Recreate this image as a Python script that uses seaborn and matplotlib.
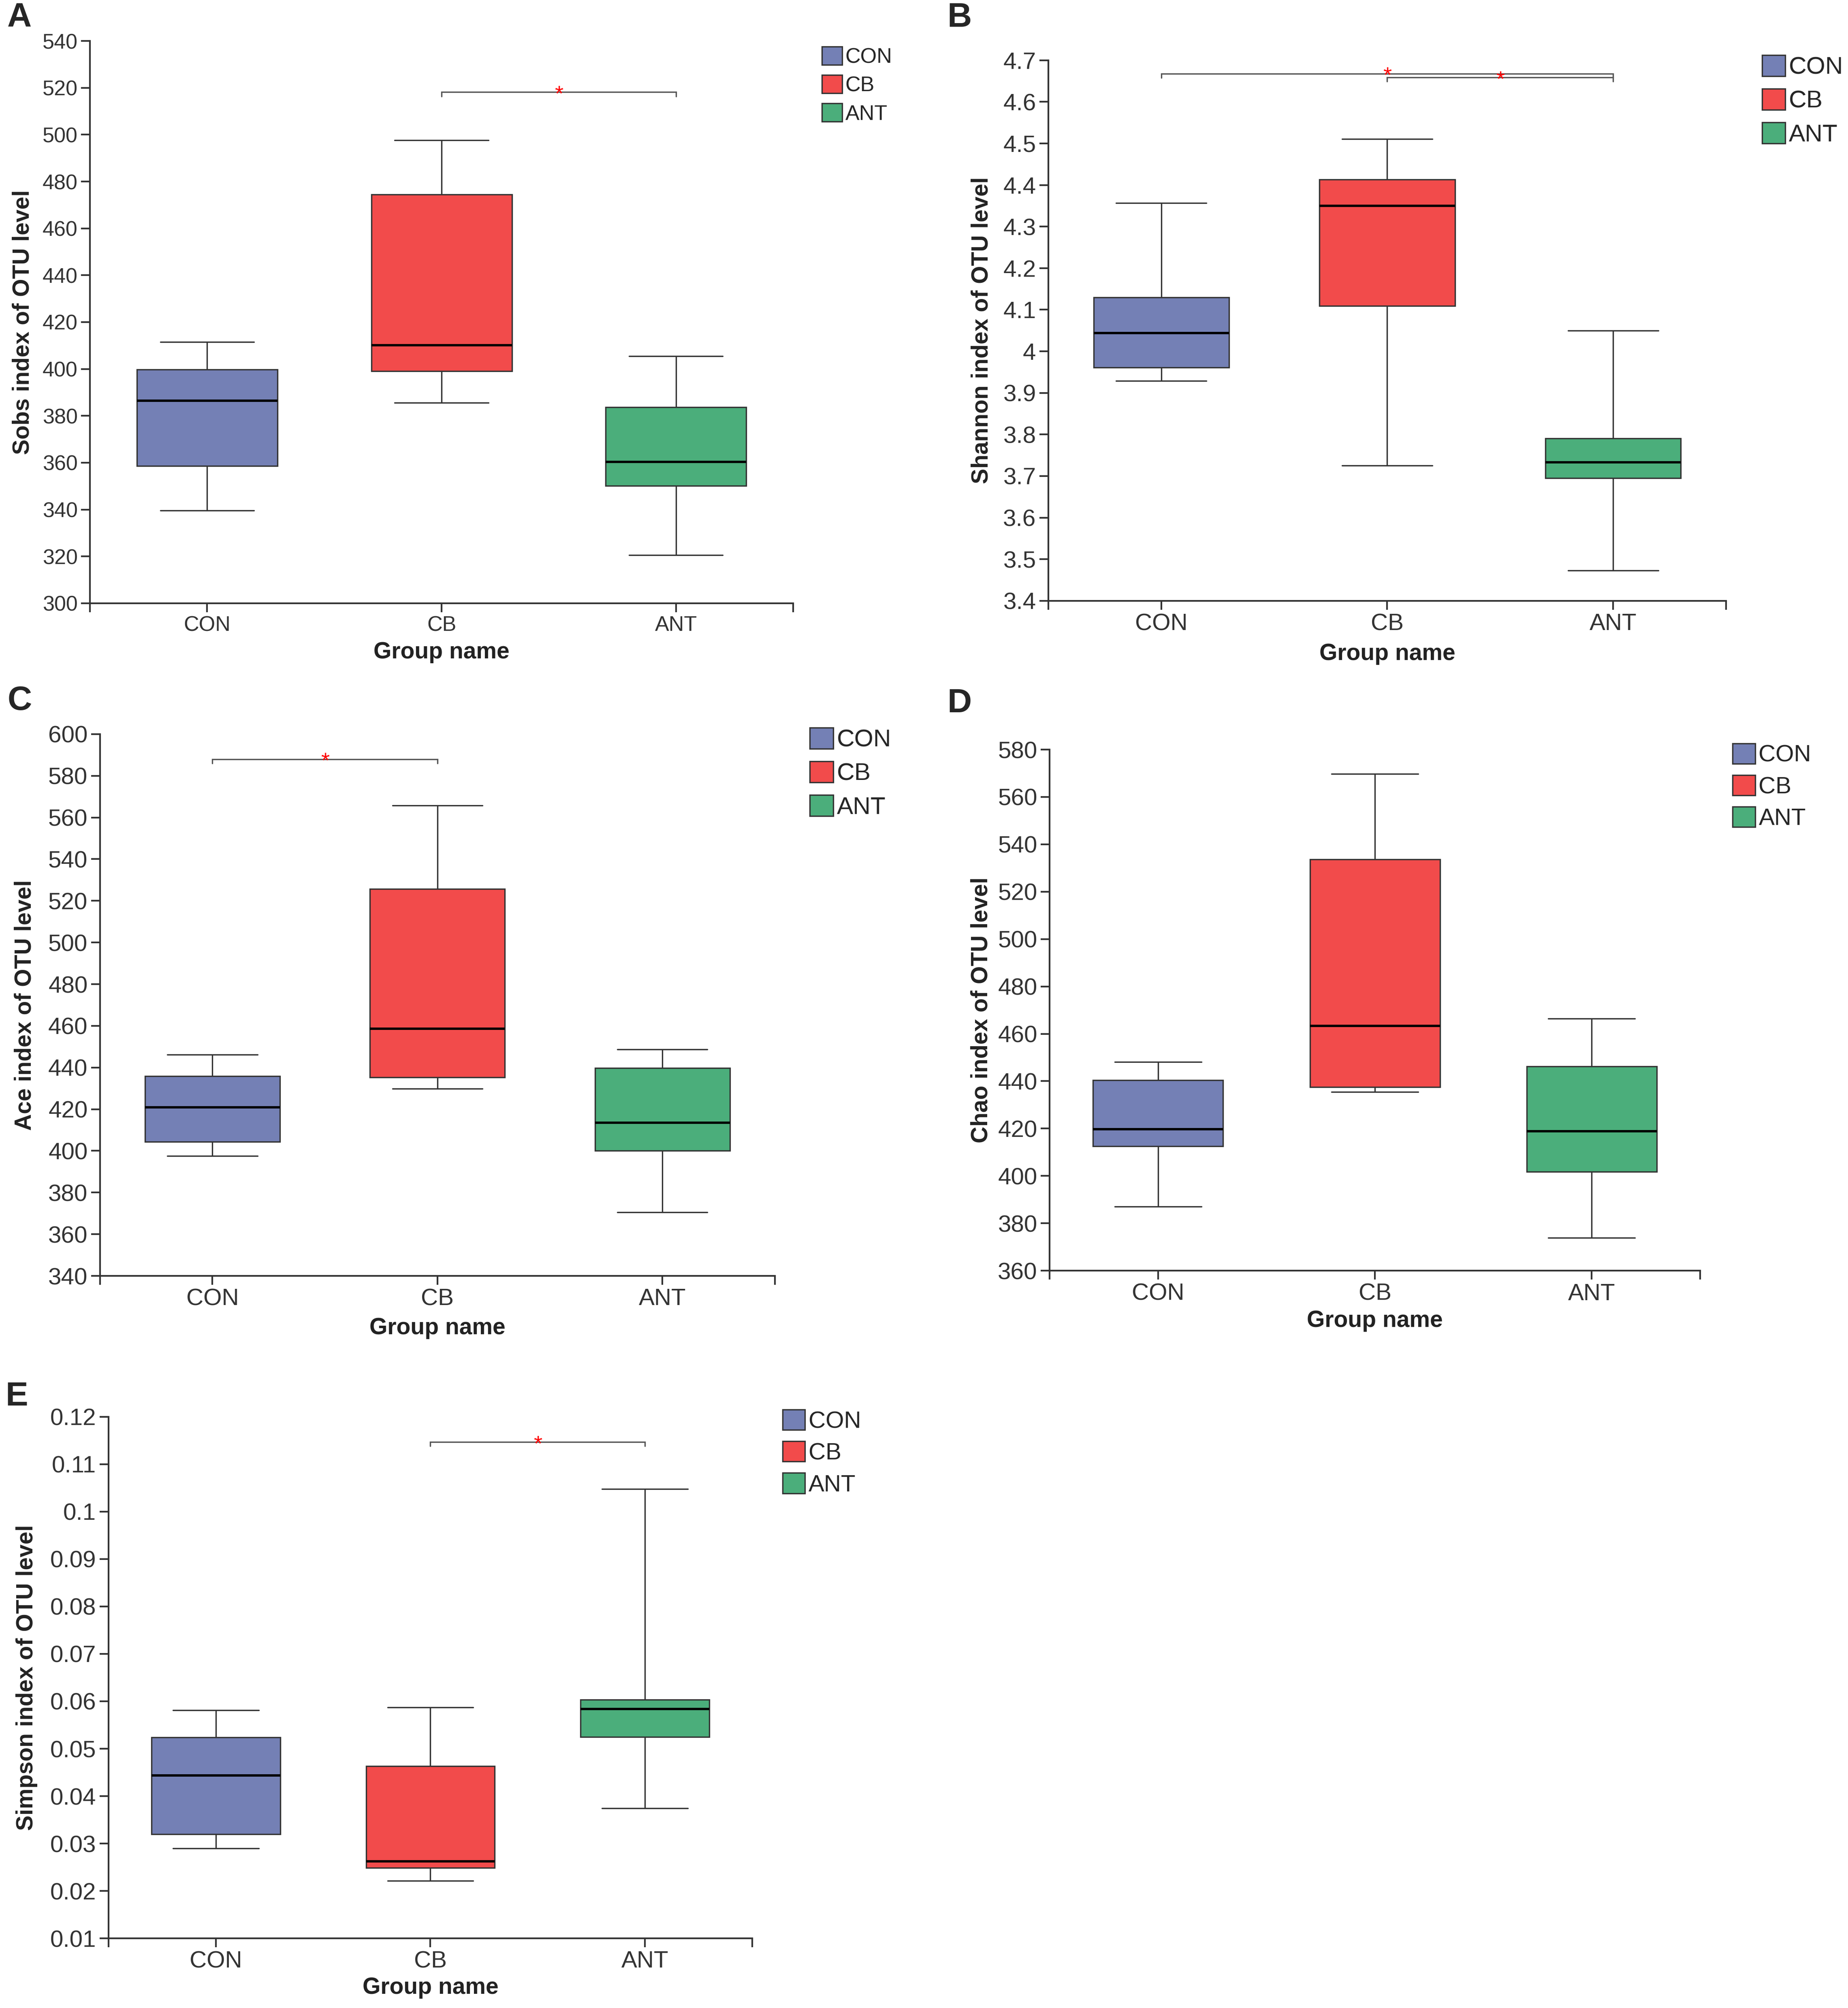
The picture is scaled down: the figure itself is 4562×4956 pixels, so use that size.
import numpy as np
import pandas as pd
import matplotlib
matplotlib.use("Agg")
import matplotlib.pyplot as plt
import matplotlib.ticker as mticker
from matplotlib.patches import Patch
import seaborn as sns

sns.set_style("ticks")
plt.rcParams["font.family"] = ["Liberation Sans", "DejaVu Sans"]
NARROW = ["Liberation Sans Narrow", "Liberation Sans", "DejaVu Sans"]

groups = ["CON", "CB", "ANT"]
colors = ["#7480b5", "#f24b4b", "#4bae7b"]
LINE = "#333333"

# five-number summaries: min, q1, median, q3, max
sobs_con = [339.6, 358.6, 386.5, 399.7, 411.6]
sobs_cb = [385.5, 399.1, 410.1, 474.4, 497.7]
sobs_ant = [320.5, 350.2, 360.4, 383.7, 405.5]

shannon_con = [3.929, 3.961, 4.044, 4.130, 4.357]
shannon_cb = [3.725, 4.109, 4.350, 4.413, 4.511]
shannon_ant = [3.473, 3.695, 3.733, 3.791, 4.050]

ace_con = [397.6, 404.4, 420.9, 435.9, 446.1]
ace_cb = [429.8, 435.3, 458.6, 525.7, 565.7]
ace_ant = [370.5, 400.0, 413.5, 439.7, 448.7]

chao_con = [387.0, 412.6, 419.7, 440.4, 448.2]
chao_cb = [435.5, 437.5, 463.4, 533.6, 569.7]
chao_ant = [373.8, 401.7, 418.8, 446.3, 466.5]

simpson_con = [0.0290, 0.0320, 0.0444, 0.0524, 0.0581]
simpson_cb = [0.0221, 0.0249, 0.0262, 0.0463, 0.0587]
simpson_ant = [0.0374, 0.0525, 0.0584, 0.0603, 0.1048]

# significance brackets: (from group, to group, height)
sobs_sig = [(1, 2, 518.2)]
shannon_sig = [(0, 2, 4.668), (1, 2, 4.659)]
ace_sig = [(0, 1, 588.0)]
chao_sig = []
simpson_sig = [(1, 2, 0.1147)]

panels = [
    dict(letter="A", data=[sobs_con, sobs_cb, sobs_ant], ylabel="Sobs index of OTU level",
         ylim=(300, 540), step=20, sig=sobs_sig,
         rect=[0.0487, 0.6996, 0.3805, 0.2800], letter_xy=(0.004, 0.999),
         ylab_x=-0.08, xlab_y=-0.068, legend_xy=(1.041, 0.99), leg_fs=12.5, spacing=0.36),
    dict(letter="B", data=[shannon_con, shannon_cb, shannon_ant], ylabel="Shannon index of OTU level",
         ylim=(3.4, 4.7), step=0.1, sig=shannon_sig,
         rect=[0.5673, 0.7008, 0.3667, 0.2692], letter_xy=(0.5125, 0.999),
         ylab_x=-0.082, xlab_y=-0.078, legend_xy=(1.053, 1.0095), leg_fs=14.5, spacing=0.4),
    dict(letter="C", data=[ace_con, ace_cb, ace_ant], ylabel="Ace index of OTU level",
         ylim=(340, 600), step=20, sig=ace_sig,
         rect=[0.0541, 0.3646, 0.3652, 0.2698], letter_xy=(0.004, 0.6588),
         ylab_x=-0.095, xlab_y=-0.076, legend_xy=(1.052, 1.012), leg_fs=14.5, spacing=0.4),
    dict(letter="D", data=[chao_con, chao_cb, chao_ant], ylabel="Chao index of OTU level",
         ylim=(360, 580), step=20, sig=chao_sig,
         rect=[0.5680, 0.3672, 0.3520, 0.2595], letter_xy=(0.5125, 0.6576),
         ylab_x=-0.088, xlab_y=-0.075, legend_xy=(1.05, 1.012), leg_fs=14, spacing=0.36),
    dict(letter="E", data=[simpson_con, simpson_cb, simpson_ant], ylabel="Simpson index of OTU level",
         ylim=(0.01, 0.12), step=0.01, sig=simpson_sig,
         rect=[0.0587, 0.0347, 0.3484, 0.2597], letter_xy=(0.003, 0.3124),
         ylab_x=-0.11, xlab_y=-0.074, legend_xy=(1.047, 1.014), leg_fs=14, spacing=0.36),
]

fig = plt.figure(figsize=(4562 / 300, 4956 / 300), dpi=300)

for i, p in enumerate(panels):
    ax = fig.add_axes(p["rect"])
    df = pd.DataFrame({
        "group": np.repeat(groups, 5),
        "value": np.concatenate(p["data"]),
    })
    sns.boxplot(data=df, x="group", y="value", hue="group", order=groups, hue_order=groups,
                palette=colors, saturation=1, width=0.6, whis=(0, 100),
                linecolor=LINE, linewidth=0.8, legend=False, ax=ax, capwidths=0.4,
                medianprops={"color": "black", "linewidth": 1.4})

    tick_fs = 12.5 if i == 0 else 14

    lo, hi = p["ylim"]
    n = int(round((hi - lo) / p["step"]))
    ax.set_ylim(lo, hi)
    ax.set_yticks(np.round(np.linspace(lo, hi, n + 1), 6))
    ax.yaxis.set_major_formatter(mticker.FormatStrFormatter("%g"))
    ax.set_xlim(-0.5, 2.5)
    ax.set_xticks([-0.5, 2.5], minor=True)

    sns.despine(ax=ax)
    for side in ["left", "bottom"]:
        ax.spines[side].set_color(LINE)
        ax.spines[side].set_linewidth(1.0)
    ax.tick_params(which="both", direction="out", length=5.3, width=1.0, color=LINE,
                   labelsize=tick_fs, labelcolor="#333333", pad=2, labelfontfamily=NARROW)

    ax.set_ylabel(p["ylabel"], fontsize=13.7, fontweight="bold", color="#222222")
    ax.set_xlabel("Group name", fontsize=13.7, fontweight="bold", color="#222222")
    ax.yaxis.set_label_coords(p["ylab_x"], 0.5)
    ax.xaxis.set_label_coords(0.5, p["xlab_y"])

    # significance brackets
    drop = 0.008 * (hi - lo)
    for a, b, h in p["sig"]:
        ax.plot([a, a, b, b], [h - drop, h, h, h - drop], color="#555555", lw=0.8,
                solid_joinstyle="miter", clip_on=False)
        ax.annotate("*", xy=((a + b) / 2, h), xytext=(0, -5), textcoords="offset points",
                    ha="center", va="baseline", color="red", fontsize=13)

    handles = [Patch(facecolor=c, edgecolor=LINE, linewidth=0.8, label=g)
               for g, c in zip(groups, colors)]
    ax.legend(handles=handles, loc="upper left", bbox_to_anchor=p["legend_xy"],
              frameon=False, fontsize=p["leg_fs"], handlelength=0.95, handleheight=0.95,
              handletextpad=0.15, labelspacing=p["spacing"],
              borderpad=0, borderaxespad=0)

    fig.text(p["letter_xy"][0], p["letter_xy"][1], p["letter"], fontsize=20,
             fontweight="bold", ha="left", va="top")

fig.savefig("out.png", dpi=300, facecolor="white")
